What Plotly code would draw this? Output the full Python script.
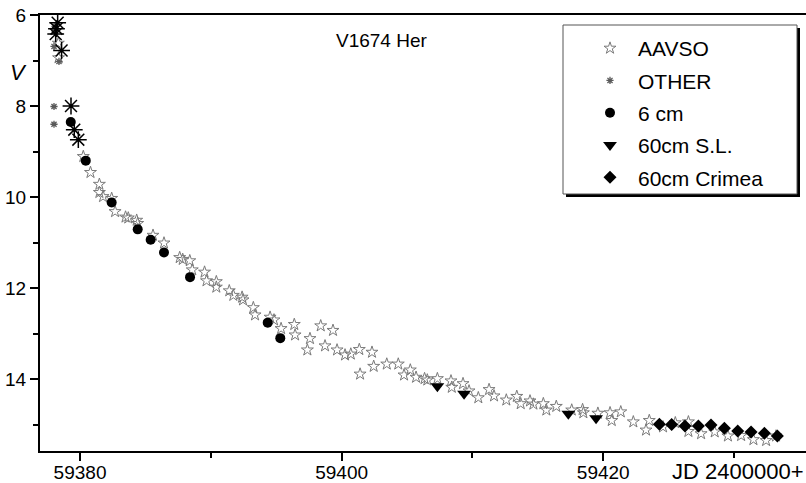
import plotly.graph_objects as go

# ---------------- data ----------------
aavso_jd = [59378.34, 59378.36, 59380.25, 59380.80, 59381.48, 59381.48, 59381.76, 59382.42, 59382.68, 59383.48,
            59383.69, 59384.33, 59384.41, 59385.58, 59386.42, 59387.62, 59387.85, 59388.39, 59388.58, 59389.52,
            59389.67, 59390.42, 59390.42, 59391.41, 59391.72, 59392.39, 59392.46, 59393.25, 59393.38, 59394.53,
            59394.83, 59395.37, 59396.38, 59396.44, 59397.38, 59397.58, 59398.40, 59398.73, 59399.34, 59399.65,
            59400.26, 59400.70, 59401.35, 59401.41, 59402.32, 59402.45, 59403.45, 59404.33, 59404.77, 59405.25,
            59405.69, 59406.34, 59406.55, 59407.32, 59408.36, 59408.42, 59409.28, 59409.74, 59410.45, 59411.27,
            59411.65, 59412.59, 59413.39, 59413.69, 59414.40, 59414.66, 59415.42, 59415.65, 59416.41, 59417.59,
            59418.42, 59418.48, 59419.59, 59420.52, 59420.65, 59421.34, 59422.30, 59423.27, 59423.52, 59424.57,
            59425.51, 59426.51, 59426.51, 59427.48, 59428.52, 59429.53, 59430.54, 59431.48, 59432.45, 59433.21]
aavso_v = [6.62, 6.94, 9.11, 9.46, 9.72, 9.90, 9.99, 10.03, 10.32, 10.44,
           10.46, 10.51, 10.58, 10.84, 11.01, 11.33, 11.37, 11.40, 11.60, 11.65,
           11.84, 11.86, 11.98, 12.06, 12.16, 12.20, 12.26, 12.43, 12.59, 12.64,
           12.70, 12.89, 12.80, 13.03, 13.36, 13.11, 12.83, 13.27, 12.93, 13.36,
           13.47, 13.45, 13.35, 13.89, 13.41, 13.72, 13.67, 13.67, 13.91, 13.80,
           13.96, 13.99, 14.02, 13.99, 14.04, 14.18, 14.10, 14.26, 14.41, 14.23,
           14.37, 14.46, 14.38, 14.54, 14.48, 14.55, 14.54, 14.68, 14.60, 14.68,
           14.67, 14.74, 14.75, 14.74, 14.91, 14.72, 14.94, 15.12, 14.91, 15.05,
           14.96, 14.94, 15.15, 15.20, 15.16, 15.25, 15.24, 15.33, 15.35, 15.25]

other_jd = [59378.09, 59378.09, 59378.01, 59378.39, 59378.01, 59378.01]
other_v = [6.25, 6.37, 6.69, 7.02, 8.01, 8.40]

other_big_jd = [59378.29, 59378.20, 59378.14, 59378.59, 59379.31, 59379.56, 59379.87]
other_big_v = [6.17, 6.30, 6.42, 6.78, 8.00, 8.52, 8.74]

cm6_jd = [59379.29, 59380.44, 59382.42, 59384.41, 59385.40, 59386.42, 59388.41, 59394.35, 59395.31]
cm6_v = [8.35, 9.20, 10.12, 10.71, 10.94, 11.22, 11.76, 12.76, 13.10]

sl_jd = [59407.32, 59409.36, 59417.33, 59419.45]
sl_v = [14.16, 14.32, 14.76, 14.86]

crimea_jd = [59424.29, 59425.23, 59426.25, 59427.27, 59428.24, 59429.26, 59430.28, 59431.30, 59432.32, 59433.31]
crimea_v = [14.99, 15.00, 15.03, 15.03, 15.01, 15.08, 15.14, 15.16, 15.19, 15.25]

x_ticks = [59380, 59400, 59420]
y_ticks = [6, 8, 10, 12, 14]

FONT = "Liberation Sans, Arial, sans-serif"
W, H = 806, 483
ML, MR, MT, MB = 40, 0, 15, 32
PW, PH = W - ML - MR, H - MT - MB


def px(xp):
    return (xp - ML) / PW


def py(yp):
    return (H - MB - yp) / PH


fig = go.Figure()
fig.add_trace(go.Scatter(x=aavso_jd, y=aavso_v, mode="markers", name="AAVSO", legendgroup="a",
                         marker=dict(symbol="star-open", size=9, color="#7a7a7a", line=dict(width=1, color="#7a7a7a"))))
fig.add_trace(go.Scatter(x=other_jd, y=other_v, mode="markers", name="OTHER", legendgroup="b",
                         marker=dict(symbol="asterisk-open", size=6, color="#5a5a5a", line=dict(width=1.3, color="#5a5a5a"))))
fig.add_trace(go.Scatter(x=other_big_jd, y=other_big_v, mode="markers", name="OTHER", showlegend=False,
                         marker=dict(symbol="asterisk-open", size=14, color="black", line=dict(width=1.5, color="black"))))
fig.add_trace(go.Scatter(x=cm6_jd, y=cm6_v, mode="markers", name="6 cm", legendgroup="c",
                         marker=dict(symbol="circle", size=10, color="black")))
fig.add_trace(go.Scatter(x=sl_jd, y=sl_v, mode="markers", name="60cm S.L.", legendgroup="d",
                         marker=dict(symbol="triangle-down", size=12, color="black")))
fig.add_trace(go.Scatter(x=crimea_jd, y=crimea_v, mode="markers", name="60cm Crimea", legendgroup="e",
                         marker=dict(symbol="diamond", size=10, color="black")))

# legend box with drop shadow
fig.add_shape(type="rect", xref="paper", yref="paper", x0=px(566), x1=px(800), y0=py(197), y1=py(28),
              fillcolor="black", line=dict(width=0), layer="below")
fig.add_shape(type="rect", xref="paper", yref="paper", x0=px(563), x1=px(797), y0=py(194), y1=py(25),
              fillcolor="white", line=dict(width=1, color="#555555"), layer="below")

fig.add_annotation(text="V1674 Her", xref="paper", yref="paper", x=px(382), y=py(40),
                   xanchor="center", yanchor="middle",
                   showarrow=False, font=dict(family=FONT, size=19, color="black"))
fig.add_annotation(text="<i>V</i>", xref="paper", yref="paper", x=px(18), y=py(72),
                   xanchor="center", yanchor="middle",
                   showarrow=False, font=dict(family=FONT, size=22, color="black"))
fig.add_annotation(text="JD 2400000+", xref="paper", yref="paper", x=px(738), y=py(471),
                   xanchor="center", yanchor="middle",
                   showarrow=False, font=dict(family=FONT, size=22, color="black"))

fig.update_layout(
    width=W, height=H,
    margin=dict(l=ML, r=MR, t=MT, b=MB, autoexpand=False),
    paper_bgcolor="white", plot_bgcolor="white",
    font=dict(family=FONT, size=19, color="black"),
    legend=dict(x=px(582), y=py(28), xanchor="left", yanchor="top",
                bgcolor="rgba(0,0,0,0)", borderwidth=0,
                font=dict(family=FONT, size=21, color="black"),
                tracegroupgap=2, itemwidth=46),
    xaxis=dict(range=[59376.94, 59435.50], tickvals=x_ticks, ticktext=[str(v) for v in x_ticks],
               automargin=False, ticklabelstandoff=-5,
               showgrid=False, zeroline=False, showline=True, linecolor="black", linewidth=2,
               mirror=True, ticks="outside", ticklen=8, tickwidth=2, tickcolor="black",
               minor=dict(dtick=10, tick0=59380, ticks="outside", ticklen=5, tickwidth=2, tickcolor="black"),
               tickfont=dict(family=FONT, size=19, color="black")),
    yaxis=dict(range=[15.58, 6], tickvals=y_ticks, ticktext=[str(v) for v in y_ticks],
               automargin=False,
               showgrid=False, zeroline=False, showline=True, linecolor="black", linewidth=2,
               ticks="outside", ticklen=8, tickwidth=2, tickcolor="black",
               minor=dict(dtick=1, tick0=6, ticks="outside", ticklen=5, tickwidth=2, tickcolor="black"),
               tickfont=dict(family=FONT, size=19, color="black")),
)

fig.write_html("out.html")
